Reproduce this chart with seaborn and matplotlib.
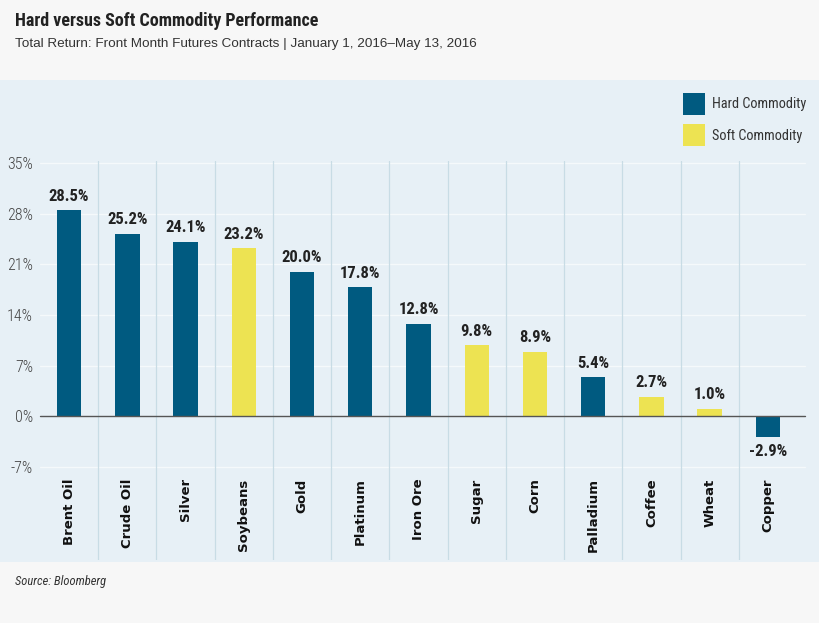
import matplotlib
matplotlib.use("Agg")
import matplotlib.pyplot as plt
import matplotlib.font_manager as fm
from matplotlib.patches import Rectangle, Patch
import seaborn as sns
import pandas as pd

categories = ['Brent Oil', 'Crude Oil', 'Silver', 'Soybeans', 'Gold', 'Platinum',
              'Iron Ore', 'Sugar', 'Corn', 'Palladium', 'Coffee', 'Wheat', 'Copper']
values = [28.5, 25.2, 24.1, 23.2, 20.0, 17.8, 12.8, 9.8, 8.9, 5.4, 2.7, 1.0, -2.9]
types = ['Hard Commodity', 'Hard Commodity', 'Hard Commodity', 'Soft Commodity',
         'Hard Commodity', 'Hard Commodity', 'Hard Commodity', 'Soft Commodity',
         'Soft Commodity', 'Hard Commodity', 'Soft Commodity', 'Soft Commodity',
         'Hard Commodity']
yticks = [-7, 0, 7, 14, 21, 28, 35]
ytick_labels = ['-7%', '0%', '7%', '14%', '21%', '28%', '35%']

HARD = '#005a80'
SOFT = '#ede352'
PANEL = '#e7f0f6'

sns.set_theme(style='white')
names = {f.name for f in fm.fontManager.ttflist}
narrow = 'Liberation Sans'
for cand in ['Roboto Condensed', 'Liberation Sans Narrow', 'DejaVu Sans Condensed',
             'Open Sans Condensed']:
    if cand in names:
        narrow = cand
        break
plt.rcParams['font.family'] = [narrow, 'DejaVu Sans']

W, H = 820, 623
fig = plt.figure(figsize=(W / 100, H / 100), dpi=100, facecolor='#f7f7f7')
fig.patches.append(Rectangle((0, 1 - 562 / H), 1, (562 - 80) / H,
                             transform=fig.transFigure, facecolor=PANEL,
                             edgecolor='none', zorder=-10))

ax_left, ax_right = 40 / W, 797 / W
ax_top, ax_bot = 161 / H, 560 / H
ax = fig.add_axes([ax_left, 1 - ax_bot, ax_right - ax_left, ax_bot - ax_top])
ax.set_facecolor('none')
ax.set_zorder(2)

df = pd.DataFrame({'category': categories, 'value': values, 'type': types})
sns.barplot(data=df, x='category', y='value', hue='type',
            palette={'Hard Commodity': HARD, 'Soft Commodity': SOFT},
            dodge=False, width=0.42, ax=ax, legend=False, zorder=3,
            saturation=1, linewidth=0)

ax.set_ylim(-19.9, 35.3)
ax.set_xlim(-0.5, len(categories) - 0.5)
for s in ax.spines.values():
    s.set_visible(False)

# gridlines
for t in yticks:
    if t != 0:
        ax.plot([-0.5, len(categories) - 0.36], [t, t], color='#f5f9fb', lw=1.0,
                zorder=1, clip_on=False)
ax.plot([-0.5, len(categories) - 0.36], [0, 0], color='#555555', lw=1.0,
        zorder=4, clip_on=False)
for i in range(len(categories) - 1):
    ax.plot([i + 0.5, i + 0.5], [-19.9, 35.3], color='#c8dce5', lw=0.9, zorder=1)

ax.set_yticks(yticks)
ax.set_yticklabels(ytick_labels, fontsize=11.5, color='#444444', fontweight='light')
ax.tick_params(axis='y', length=0, pad=5)
ax.set_xticks([])
ax.set_xlabel('')
ax.set_ylabel('')

# value labels
for i, v in enumerate(values):
    if v >= 0:
        ax.text(i, v + 0.9, f'{v:.1f}%', ha='center', va='bottom', fontsize=12,
                fontweight='bold', color='#222222', zorder=5)
    else:
        ax.text(i, v - 0.9, f'{v:.1f}%', ha='center', va='top', fontsize=12,
                fontweight='bold', color='#222222', zorder=5)

# category labels
for i, c in enumerate(categories):
    ax.text(i, -8.6, c, rotation=90, ha='center', va='top', fontsize=9.5,
            fontweight='bold', color='#111111', family='DejaVu Sans', zorder=5)

# legend
handles = [Patch(facecolor=HARD, edgecolor='none', label='Hard Commodity'),
           Patch(facecolor=SOFT, edgecolor='none', label='Soft Commodity')]
fig.legend(handles=handles, loc='upper left', bbox_to_anchor=(670 / W, 1 - 80 / H),
           frameon=False, fontsize=10.3, handlelength=1.58, handleheight=1.97,
           handletextpad=0.45, labelspacing=0.68, labelcolor='#333333')

fig.text(15 / W, 1 - 21 / H, 'Hard versus Soft Commodity Performance', fontsize=13,
         fontweight='bold', color='#222222', va='center', ha='left')
fig.text(15 / W, 1 - 44 / H,
         'Total Return: Front Month Futures Contracts | January 1, 2016\u2013May 13, 2016',
         fontsize=9.7, color='#333333', va='center', ha='left', family='Liberation Sans')
fig.text(15 / W, 1 - 582 / H, 'Source: Bloomberg', fontsize=9, style='italic',
         color='#333333', va='center', ha='left')

fig.savefig('out.png', dpi=100, facecolor=fig.get_facecolor())
